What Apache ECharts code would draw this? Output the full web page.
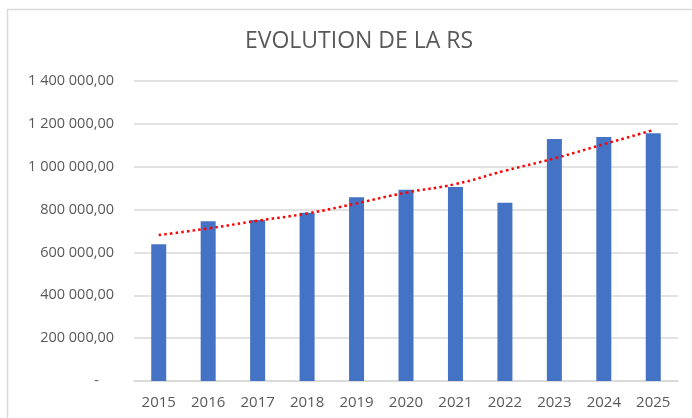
<html>
<head>
    <meta charset="utf-8">
    <title>EVOLUTION DE LA RS</title>
    <script src="https://cdn.jsdelivr.net/npm/echarts@6/dist/echarts.min.js"></script>
    <style>
        html, body { margin: 0; padding: 0; background: #fff; }
    </style>
</head>
<body>
    <div id="main" style="width:692px;height:418px"></div>
    <script type="text/javascript">
        var annees = ['2015', '2016', '2017', '2018', '2019', '2020', '2021', '2022', '2023', '2024', '2025'];
        var rs = [638000, 745000, 751000, 785000, 857000, 893000, 905000, 832000, 1129000, 1139000, 1156000];
        // courbe de tendance
        var tendance = [681000, 712000, 748000, 782000, 829000, 879000, 919000, 981000, 1039000, 1105000, 1171000];

        function formatNombre(v) {
            if (v === 0) return '-    ';
            var s = Math.round(v).toString().replace(/\B(?=(\d{3})+(?!\d))/g, ' ');
            return s + ',00';
        }

        var myChart = echarts.init(document.getElementById('main'));
        var option = {
            backgroundColor: '#fff',
            animation: false,
            title: {
                text: 'EVOLUTION DE LA RS',
                left: 354,
                textAlign: 'center',
                top: 25,
                textStyle: {
                    fontFamily: 'Open Sans',
                    fontSize: 23,
                    fontWeight: 'normal',
                    color: '#595959'
                }
            },
            graphic: [{
                type: 'rect',
                shape: { x: 7.5, y: 9.5, width: 700, height: 420 },
                style: { fill: 'none', stroke: '#d9d9d9', lineWidth: 1.5 },
                silent: true
            }],
            grid: { left: 134, right: 14, top: 81, bottom: 37 },
            xAxis: {
                type: 'category',
                data: annees,
                axisLine: { lineStyle: { color: '#d9d9d9', width: 1.5 } },
                axisTick: { show: false },
                axisLabel: {
                    fontFamily: 'Open Sans',
                    fontSize: 15,
                    color: '#595959',
                    margin: 14
                }
            },
            yAxis: {
                type: 'value',
                min: 0,
                max: 1400000,
                interval: 200000,
                axisLine: { show: false },
                axisTick: { show: false },
                splitLine: { lineStyle: { color: '#d9d9d9', width: 1.5 } },
                axisLabel: {
                    fontFamily: 'Open Sans',
                    fontSize: 14.5,
                    color: '#595959',
                    margin: 20,
                    formatter: formatNombre
                }
            },
            series: [
                {
                    name: 'RS',
                    type: 'bar',
                    data: rs,
                    barWidth: 15,
                    itemStyle: { color: '#4472C4' }
                },
                {
                    name: 'Tendance',
                    type: 'line',
                    data: tendance,
                    smooth: true,
                    symbol: 'none',
                    lineStyle: { color: '#FF0000', width: 2.5, type: [2.5, 3.2] },
                    z: 5
                }
            ]
        };
        myChart.setOption(option);
    </script>
</body>
</html>
